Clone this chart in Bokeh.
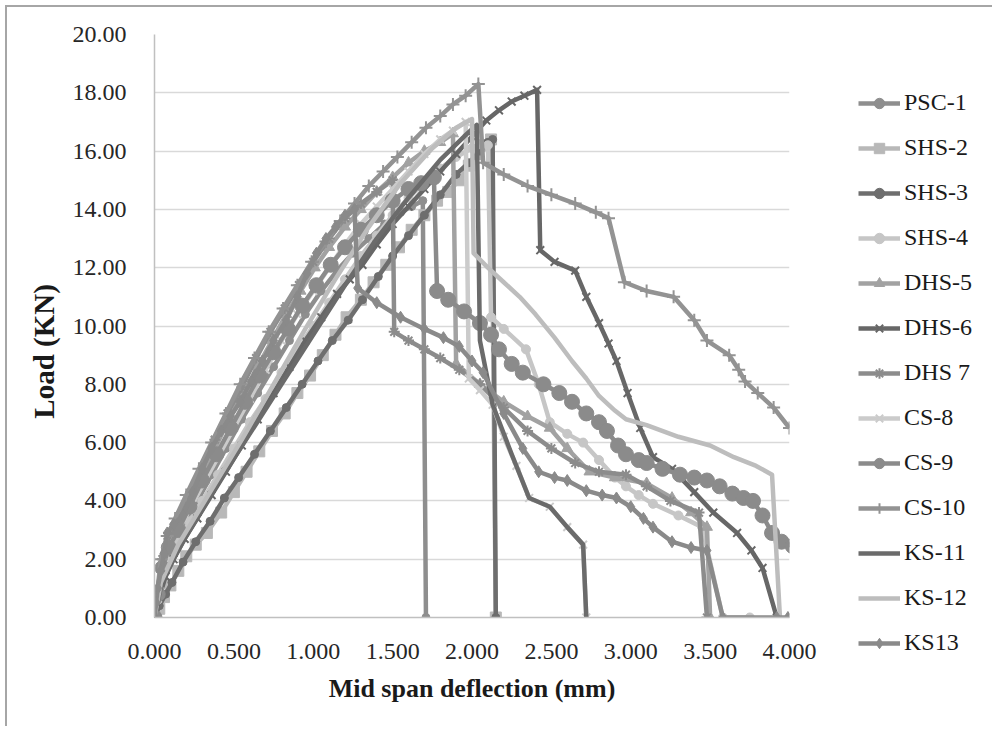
from bokeh.plotting import figure
from bokeh.layouts import row
from bokeh.models import Legend, LegendItem, FixedTicker, NumeralTickFormatter, Range1d
from bokeh.embed import file_html
from bokeh.resources import INLINE

# ---------------- data ----------------
x_ticks = [0.0, 0.5, 1.0, 1.5, 2.0, 2.5, 3.0, 3.5, 4.0]
y_ticks = [0, 2, 4, 6, 8, 10, 12, 14, 16, 18, 20]

psc1_x = [0, 0.02, 0.05, 0.10, 0.18, 0.27, 0.36, 0.45, 0.55, 0.65, 0.75, 0.85, 0.95, 1.05, 1.15, 1.25, 1.35, 1.45, 1.55, 1.62, 1.69, 1.71]
psc1_y = [0, 0.8, 1.6, 2.4, 3.1, 4.0, 4.9, 5.8, 6.8, 7.7, 8.6, 9.5, 10.4, 11.2, 11.9, 12.5, 13.0, 13.5, 13.9, 14.1, 14.3, 0]

shs2_x = [0, 0.03, 0.06, 0.10, 0.15, 0.20, 0.26, 0.33, 0.42, 0.50, 0.58, 0.66, 0.74, 0.82, 0.90, 0.98, 1.06, 1.14, 1.21, 1.30, 1.38, 1.46, 1.54, 1.62, 1.70, 1.78, 1.85, 1.92, 1.98, 2.04, 2.08, 2.12, 2.15]
shs2_y = [0, 0.3, 0.7, 1.1, 1.6, 2.1, 2.5, 2.9, 3.6, 4.3, 5.0, 5.7, 6.4, 7.0, 7.7, 8.3, 9.0, 9.7, 10.3, 10.9, 11.5, 12.1, 12.7, 13.3, 13.8, 14.3, 14.6, 15.0, 15.5, 15.9, 16.2, 16.4, 0]

shs3_x = [0, 0.03, 0.07, 0.11, 0.18, 0.26, 0.35, 0.44, 0.53, 0.63, 0.73, 0.83, 0.93, 1.03, 1.12, 1.22, 1.31, 1.41, 1.50, 1.60, 1.70, 1.80, 1.90, 1.98, 2.05, 2.10, 2.13, 2.15]
shs3_y = [0, 0.4, 0.8, 1.2, 1.9, 2.6, 3.3, 4.1, 4.8, 5.6, 6.4, 7.2, 8.0, 8.8, 9.5, 10.2, 10.9, 11.7, 12.4, 13.1, 13.8, 14.5, 15.2, 15.6, 16.0, 16.3, 16.4, 0]

shs4_x = [0, 0.02, 0.05, 0.09, 0.15, 0.22, 0.30, 0.40, 0.50, 0.60, 0.70, 0.80, 0.90, 1.00, 1.10, 1.20, 1.30, 1.40, 1.50, 1.60, 1.70, 1.80, 1.90, 2.00, 2.10,
          2.12, 2.20, 2.34, 2.42, 2.49, 2.60, 2.70, 2.80, 2.90, 2.97, 3.05, 3.14, 3.30, 3.45, 3.58, 3.75]
shs4_y = [0, 0.6, 1.3, 1.9, 2.6, 3.3, 4.0, 4.9, 5.8, 6.7, 7.5, 8.4, 9.2, 10.0, 10.8, 11.6, 12.4, 13.1, 13.8, 14.4, 14.9, 15.4, 15.8, 16.1, 16.2,
          10.3, 9.9, 9.2, 8.0, 6.7, 6.3, 6.0, 5.4, 4.8, 4.5, 4.2, 3.9, 3.5, 3.1, 0, 0]

dhs5_x = [0, 0.02, 0.05, 0.09, 0.15, 0.22, 0.30, 0.38, 0.47, 0.56, 0.65, 0.74, 0.83, 0.92, 1.01, 1.10, 1.20, 1.30, 1.40, 1.50, 1.60, 1.70, 1.80, 1.88,
          1.90, 2.05, 2.20, 2.35, 2.49, 2.60, 2.74, 2.90, 3.10, 3.26, 3.38, 3.48, 3.50]
dhs5_y = [0, 0.9, 1.9, 2.6, 3.2, 4.0, 4.9, 5.8, 6.8, 7.7, 8.6, 9.5, 10.4, 11.2, 12.0, 12.7, 13.4, 14.0, 14.6, 15.1, 15.6, 16.0, 16.3, 16.6,
          8.7, 8.0, 7.4, 6.9, 6.5, 5.8, 5.0, 4.8, 4.6, 4.1, 3.6, 3.1, 0]

dhs6_x = [0, 0.03, 0.07, 0.12, 0.19, 0.27, 0.36, 0.45, 0.55, 0.65, 0.75, 0.85, 0.95, 1.05, 1.15, 1.23, 1.31, 1.40, 1.50, 1.60, 1.70, 1.80, 1.90, 2.00, 2.09, 2.17, 2.25, 2.33, 2.41,
          2.43, 2.52, 2.65, 2.72, 2.80, 2.86, 2.91, 2.98, 3.06, 3.14, 3.26, 3.40, 3.52, 3.67, 3.76, 3.83, 3.92]
dhs6_y = [0, 0.7, 1.4, 2.0, 2.7, 3.4, 4.2, 5.0, 5.9, 6.8, 7.7, 8.6, 9.5, 10.3, 11.1, 11.6, 12.1, 12.8, 13.5, 14.1, 14.7, 15.3, 15.9, 16.5, 17.05, 17.4, 17.7, 17.9, 18.1,
          12.6, 12.2, 11.9, 11.0, 10.1, 9.4, 8.8, 7.7, 6.5, 5.5, 5.1, 4.3, 3.6, 2.9, 2.3, 1.7, 0]

dhs7_x = [0, 0.02, 0.05, 0.09, 0.15, 0.22, 0.30, 0.38, 0.46, 0.55, 0.64, 0.73, 0.82, 0.91, 1.00, 1.10, 1.20, 1.30, 1.40, 1.50,
          1.51, 1.60, 1.70, 1.80, 1.92, 2.05, 2.20, 2.35, 2.50, 2.65, 2.80, 2.97, 3.10, 3.25, 3.43, 3.48]
dhs7_y = [0, 1.0, 2.0, 2.7, 3.3, 4.2, 5.1, 6.1, 7.0, 7.9, 8.9, 9.8, 10.6, 11.4, 12.2, 13.0, 13.7, 14.2, 14.6, 15.0,
          9.8, 9.5, 9.2, 8.9, 8.5, 8.0, 7.2, 6.4, 5.8, 5.3, 5.0, 4.9, 4.5, 4.0, 3.6, 0]

cs8_x = [0, 0.02, 0.05, 0.10, 0.16, 0.24, 0.32, 0.41, 0.50, 0.60, 0.70, 0.80, 0.90, 1.00, 1.10, 1.20, 1.30, 1.40, 1.50, 1.60, 1.70, 1.80, 1.88, 1.96,
         1.98, 2.05, 2.13, 2.20, 2.28, 2.36, 2.49, 2.60, 2.70, 2.72]
cs8_y = [0, 0.8, 1.7, 2.5, 3.1, 3.9, 4.7, 5.6, 6.5, 7.5, 8.5, 9.5, 10.4, 11.2, 12.0, 12.8, 13.5, 14.1, 14.7, 15.3, 15.9, 16.4, 16.7, 17.0,
         8.2, 7.8, 7.3, 6.2, 5.2, 4.1, 3.8, 3.1, 2.5, 0]

cs9_x = [0, 0.02, 0.05, 0.09, 0.15, 0.22, 0.30, 0.39, 0.48, 0.57, 0.66, 0.75, 0.84, 0.93, 1.02, 1.11, 1.20, 1.30, 1.40, 1.50, 1.60, 1.68, 1.76,
         1.78, 1.85, 1.95, 2.05, 2.12, 2.17, 2.25, 2.32, 2.45, 2.55, 2.63, 2.72, 2.80, 2.85, 2.92, 2.97, 3.05, 3.10, 3.20, 3.31, 3.40, 3.48,
         3.56, 3.64, 3.71, 3.77, 3.83, 3.89, 3.95, 4.02]
cs9_y = [0, 0.8, 1.7, 2.4, 3.0, 3.8, 4.7, 5.6, 6.5, 7.4, 8.3, 9.1, 9.9, 10.7, 11.4, 12.1, 12.7, 13.3, 13.8, 14.3, 14.7, 14.9, 15.1,
         11.2, 10.9, 10.5, 10.1, 9.7, 9.2, 8.7, 8.4, 8.0, 7.7, 7.4, 7.0, 6.7, 6.4, 5.9, 5.6, 5.4, 5.3, 5.1, 4.9, 4.8, 4.7,
         4.5, 4.25, 4.1, 4.0, 3.5, 2.9, 2.6, 2.45]

cs10_x = [0, 0.02, 0.04, 0.08, 0.13, 0.20, 0.28, 0.36, 0.45, 0.54, 0.63, 0.72, 0.81, 0.90, 0.99, 1.08, 1.17, 1.26, 1.35, 1.44, 1.53, 1.62, 1.71, 1.80, 1.88, 1.96, 2.04,
          2.07, 2.20, 2.35, 2.50, 2.65, 2.78, 2.86, 2.96, 3.10, 3.27, 3.40, 3.48, 3.62, 3.68, 3.72, 3.80, 3.90, 4.00]
cs10_y = [0, 1.0, 2.0, 2.8, 3.4, 4.2, 5.1, 6.0, 7.0, 8.0, 8.9, 9.8, 10.6, 11.4, 12.2, 12.9, 13.6, 14.2, 14.8, 15.3, 15.8, 16.3, 16.8, 17.2, 17.6, 17.9, 18.3,
          15.6, 15.2, 14.8, 14.5, 14.2, 13.9, 13.7, 11.5, 11.2, 11.0, 10.2, 9.5, 9.0, 8.5, 8.1, 7.7, 7.2, 6.5]

ks11_x = [0, 0.05, 0.20, 0.40, 0.60, 0.80, 1.00, 1.20, 1.40, 1.60, 1.80, 1.95, 2.03,
          2.05, 2.13, 2.25, 2.36, 2.49, 2.60, 2.70, 2.72]
ks11_y = [0, 1.3, 2.8, 4.6, 6.3, 8.0, 9.7, 11.4, 13.0, 14.4, 15.7, 16.5, 16.9,
          9.5, 7.3, 5.6, 4.1, 3.8, 3.1, 2.5, 0]

ks12_x = [0, 0.04, 0.15, 0.35, 0.55, 0.75, 0.95, 1.15, 1.35, 1.55, 1.75, 1.90, 2.00,
          2.01, 2.10, 2.20, 2.30, 2.40, 2.52, 2.63, 2.72, 2.80, 2.90, 2.97, 3.10, 3.30, 3.50, 3.65, 3.79, 3.89, 3.94]
ks12_y = [0, 1.2, 2.5, 4.3, 6.1, 8.0, 9.9, 11.7, 13.4, 14.9, 16.1, 16.8, 17.1,
          12.5, 12.0, 11.5, 11.0, 10.4, 9.6, 8.8, 8.2, 7.6, 7.1, 6.8, 6.6, 6.2, 5.9, 5.5, 5.2, 4.9, 0]

ks13_x = [0, 0.01, 0.02, 0.04, 0.06, 0.08, 0.12, 0.18, 0.24, 0.30, 0.36, 0.42, 0.48, 0.54, 0.61, 0.68, 0.75, 0.83, 0.90, 0.96, 1.02, 1.08, 1.14, 1.20, 1.26,
          1.28, 1.40, 1.55, 1.70, 1.82, 1.92, 2.00, 2.07, 2.20, 2.32, 2.42, 2.52, 2.60, 2.72, 2.82, 2.91, 3.00, 3.08, 3.14, 3.26, 3.38, 3.48, 3.58, 3.92, 3.99]
ks13_y = [0, 0.5, 1.0, 1.6, 2.2, 2.9, 3.2, 3.5, 4.3, 5.1, 5.8, 6.4, 6.9, 7.4, 8.1, 8.8, 9.5, 10.2, 11.0, 11.8, 12.5, 13.0, 13.4, 13.8, 14.0,
          11.3, 10.8, 10.3, 9.9, 9.6, 9.3, 8.8, 8.4, 7.0, 5.8, 5.0, 4.8, 4.7, 4.35, 4.2, 4.1, 3.8, 3.4, 3.1, 2.6, 2.4, 2.3, 0, 0, 0]

names = ["PSC-1", "SHS-2", "SHS-3", "SHS-4", "DHS-5", "DHS-6", "DHS 7",
         "CS-8", "CS-9", "CS-10", "KS-11", "KS-12", "KS13"]
xs = [psc1_x, shs2_x, shs3_x, shs4_x, dhs5_x, dhs6_x, dhs7_x, cs8_x, cs9_x, cs10_x, ks11_x, ks12_x, ks13_x]
ys = [psc1_y, shs2_y, shs3_y, shs4_y, dhs5_y, dhs6_y, dhs7_y, cs8_y, cs9_y, cs10_y, ks11_y, ks12_y, ks13_y]

# ---------------- styles ----------------
colors = ["#8e8e8e", "#b8b8b8", "#6e6e6e", "#c6c6c6", "#a2a2a2", "#676767", "#8c8c8c",
          "#cbcbcb", "#8b8b8b", "#939393", "#6b6b6b", "#bdbdbd", "#8a8a8a"]
markers = ["circle", "square", "circle", "circle", "triangle", "x", "asterisk",
           "x", "circle", "cross", None, None, "diamond"]
msizes = [8, 11, 8, 9, 11, 11, 11, 11, 15, 13, 0, 0, 12]

FONT = "Liberation Serif"
H = 719

p = figure(width=822, height=H, output_backend="svg", toolbar_location=None,
           x_range=Range1d(0, 4), y_range=Range1d(0, 20),
           min_border_left=147, min_border_top=27, min_border_right=40, min_border_bottom=109)
p.outline_line_color = None
p.background_fill_color = "white"
p.border_fill_color = "white"

p.xgrid.visible = False
p.ygrid.grid_line_color = "#d9d9d9"
p.ygrid.grid_line_width = 1.5

p.xaxis.ticker = FixedTicker(ticks=x_ticks)
p.yaxis.ticker = FixedTicker(ticks=y_ticks)
p.xaxis.formatter = NumeralTickFormatter(format="0.000")
p.yaxis.formatter = NumeralTickFormatter(format="0.00")
for ax in (p.xaxis, p.yaxis):
    ax.axis_line_color = "#c0c0c0"
    ax.axis_line_width = 1.5
    ax.major_tick_line_color = None
    ax.minor_tick_line_color = None
    ax.major_label_text_font = FONT
    ax.major_label_text_font_size = "24px"
    ax.major_label_text_color = "#262626"
    ax.axis_label_text_font = FONT
    ax.axis_label_text_font_style = "bold"
    ax.axis_label_text_color = "#1a1a1a"
p.xaxis.axis_label_text_font_size = "26px"
p.yaxis.axis_label_text_font_size = "29px"
p.xaxis.major_label_standoff = 20
p.yaxis.major_label_standoff = 22
p.xaxis.axis_label = "Mid span deflection (mm)"
p.yaxis.axis_label = "Load (KN)" + "\u00a0" * 7
p.xaxis.axis_label_standoff = 12
p.yaxis.axis_label_standoff = 10

# legend lives in its own narrow figure to the right of the plot; its copies of
# the series fall outside that figure's ranges, so only the legend shows there.
# The figure is shifted down a little so the legend sits where the reference has it.
pl = figure(width=985 - 822, height=H, output_backend="svg", toolbar_location=None,
            x_axis_type=None, y_axis_type=None, x_range=Range1d(100, 101), y_range=Range1d(100, 101),
            min_border_left=0, min_border_right=0, min_border_top=27, min_border_bottom=109)
pl.styles = {"transform": "translateY(49px)"}
pl.outline_line_color = None
pl.grid.visible = False
pl.background_fill_alpha = 0
pl.border_fill_alpha = 0

items = []
for name, x, y, c, m, s in zip(names, xs, ys, colors, markers, msizes):
    p.line(x, y, line_color=c, line_width=4.5, line_join="round")
    rs = [pl.line(x, y, line_color=c, line_width=4.5)]
    if m is not None:
        if m in ("x", "asterisk", "cross"):
            p.scatter(x, y, marker=m, size=s, line_color=c, line_width=2, fill_color=None)
            rs.append(pl.scatter(x, y, marker=m, size=s, line_color=c, line_width=2, fill_color=None))
        else:
            p.scatter(x, y, marker=m, size=s, line_color=c, fill_color=c)
            rs.append(pl.scatter(x, y, marker=m, size=s, line_color=c, fill_color=c))
    items.append(LegendItem(label=name, renderers=rs))

legend = Legend(items=items, location=(29, 10),
                label_text_font=FONT, label_text_font_size="24px", label_text_color="#1a1a1a",
                glyph_width=42, glyph_height=26, label_height=20, spacing=18,
                padding=0, margin=0, label_standoff=4,
                border_line_color=None, background_fill_alpha=0)
pl.add_layout(legend)

layout = row(p, pl, styles={"margin": "5px 0 0 5px", "overflow": "hidden",
                            "border-left": "2px solid #a6a6a6", "border-top": "2px solid #a6a6a6"})

open("out.html", "w").write(file_html(layout, INLINE))
